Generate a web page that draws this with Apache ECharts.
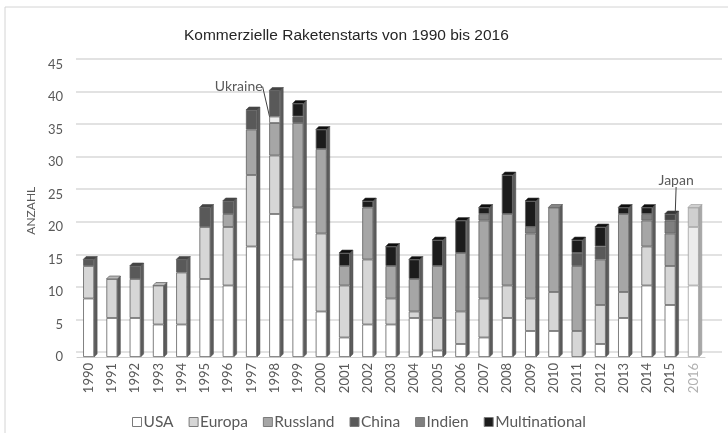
<!DOCTYPE html>
<html>
<head>
<meta charset="utf-8">
<script src="https://cdn.jsdelivr.net/npm/echarts@6/dist/echarts.min.js"></script>
<style>
  html, body { margin: 0; padding: 0; background: #fff; }
  #chart { width: 728px; height: 433px; }
</style>
</head>
<body>
<div id="chart"></div>
<script>
const years = ['1990', '1991', '1992', '1993', '1994', '1995', '1996', '1997', '1998', '1999',
  '2000', '2001', '2002', '2003', '2004', '2005', '2006', '2007', '2008', '2009',
  '2010', '2011', '2012', '2013', '2014', '2015', '2016'];

const usa =           [9, 6, 6, 5, 5, 12, 11, 17, 22, 15, 7, 3, 5, 5, 6, 1, 2, 3, 6, 4, 4, 0, 2, 6, 11, 8, 11];
const europa =        [5, 6, 6, 6, 8, 8, 9, 11, 9, 8, 12, 8, 10, 4, 1, 5, 5, 6, 5, 5, 6, 4, 6, 4, 6, 6, 9];
const russland =      [0, 0, 0, 0, 0, 0, 2, 7, 5, 13, 13, 3, 8, 5, 5, 8, 9, 12, 11, 10, 13, 10, 7, 12, 4, 5, 3];
const ukraine =       [0, 0, 0, 0, 0, 0, 0, 0, 1, 0, 0, 0, 0, 0, 0, 0, 0, 0, 0, 0, 0, 0, 0, 0, 0, 0, 0];
const china =         [1, 0, 2, 0, 2, 3, 2, 3, 4, 1, 0, 0, 0, 0, 0, 0, 0, 0, 0, 0, 0, 2, 2, 0, 0, 0, 0];
const indien =        [0, 0, 0, 0, 0, 0, 0, 0, 0, 0, 0, 0, 0, 0, 0, 0, 0, 1, 0, 1, 0, 0, 0, 0, 1, 2, 0];
const japan =         [0, 0, 0, 0, 0, 0, 0, 0, 0, 0, 0, 0, 0, 0, 0, 0, 0, 0, 0, 0, 0, 0, 0, 0, 0, 1, 0];
const multinational = [0, 0, 0, 0, 0, 0, 0, 0, 0, 2, 3, 2, 1, 3, 3, 4, 5, 1, 6, 4, 0, 2, 3, 1, 1, 0, 0];

const yTicks = [0, 5, 10, 15, 20, 25, 30, 35, 40, 45];

const FONT = 'Lato';
const BAR_W = 11;
const DEPTH = 3;
const lastIdx = years.length - 1;

// stacking order bottom -> top, with front colour, faded (2016) colour and cap colour
const stackDefs = [
  { name: 'USA', data: usa, color: '#ffffff', faded: '#ffffff', cap: '#d8d8d8' },
  { name: 'Europa', data: europa, color: '#d6d6d6', faded: '#ececec', cap: '#b8b8b8' },
  { name: 'Russland', data: russland, color: '#a6a6a6', faded: '#cfcfcf', cap: '#868686' },
  { name: 'Ukraine', data: ukraine, color: '#ededed', faded: '#ededed', cap: '#cccccc' },
  { name: 'China', data: china, color: '#595959', faded: '#8a8a8a', cap: '#444444' },
  { name: 'Indien', data: indien, color: '#7f7f7f', faded: '#b0b0b0', cap: '#626262' },
  { name: 'Japan', data: japan, color: '#454545', faded: '#454545', cap: '#333333' },
  { name: 'Multinational', data: multinational, color: '#1c1c1c', faded: '#555555', cap: '#0e0e0e' }
];

// total per year and which series sits on top (for the 3D cap)
const depthData = years.map((y, i) => {
  let total = 0, topK = 0;
  stackDefs.forEach((s, k) => {
    if (s.data[i]) { total += s.data[i]; topK = k; }
  });
  return [i, total, topK];
});

const chart = echarts.init(document.getElementById('chart'));

function toData(arr, fadedColor) {
  return arr.map((v, i) => {
    if (!v) return '-';
    if (i === lastIdx) {
      return { value: v, itemStyle: { color: fadedColor, borderColor: '#a0a0a0' } };
    }
    return v;
  });
}

function barSeries(def, extra) {
  return Object.assign({
    name: def.name,
    type: 'bar',
    stack: 'total',
    barWidth: BAR_W,
    data: toData(def.data, def.faded),
    itemStyle: { color: def.color, borderColor: '#606060', borderWidth: 0.8 },
    emphasis: { disabled: true },
    z: 3
  }, extra || {});
}

const annoLabel = text => ({
  show: true,
  position: 'top',
  formatter: text,
  fontFamily: FONT,
  fontSize: 14,
  color: '#595959'
});

const series = stackDefs.map(def => {
  if (def.name === 'Ukraine') {
    return barSeries(def, {
      label: annoLabel('Ukraine'),
      labelLayout: { dx: -36, dy: -18 },
      labelLine: { show: true, lineStyle: { color: '#404040', width: 1 } }
    });
  }
  if (def.name === 'Japan') {
    return barSeries(def, {
      label: annoLabel('Japan'),
      labelLayout: { dx: 6, dy: -22 },
      labelLine: { show: true, lineStyle: { color: '#404040', width: 1 } }
    });
  }
  return barSeries(def);
});

// side face and top cap of each column
series.push({
  name: 'depth',
  type: 'custom',
  data: depthData,
  silent: true,
  z: 2,
  renderItem: (params, api) => {
    const i = api.value(0);
    const total = api.value(1);
    const topK = api.value(2);
    const base = api.coord([i, 0]);
    const top = api.coord([i, total]);
    const xl = base[0] - BAR_W / 2;
    const xr = base[0] + BAR_W / 2;
    const faded = i === lastIdx;
    const capColor = faded ? stackDefs[topK].faded : stackDefs[topK].cap;
    return {
      type: 'group',
      children: [
        {
          type: 'polygon',
          shape: { points: [[xr, base[1]], [xr + DEPTH, base[1] - DEPTH], [xr + DEPTH, top[1] - DEPTH], [xr, top[1]]] },
          style: { fill: faded ? '#a8a8a8' : '#5c5c5c', stroke: faded ? '#999' : '#4a4a4a', lineWidth: 0.5 }
        },
        {
          type: 'polygon',
          shape: { points: [[xl, top[1]], [xl + DEPTH, top[1] - DEPTH], [xr + DEPTH, top[1] - DEPTH], [xr, top[1]]] },
          style: { fill: capColor, stroke: faded ? '#999' : '#4a4a4a', lineWidth: 0.6 }
        }
      ]
    };
  }
});

const option = {
  animation: false,
  backgroundColor: '#fff',
  textStyle: { fontFamily: FONT },
  title: {
    text: 'Kommerzielle Raketenstarts von 1990 bis 2016',
    left: 179,
    top: 23,
    textStyle: {
      fontFamily: 'Liberation Sans',
      fontSize: 15.5,
      fontWeight: 'normal',
      color: '#262626'
    }
  },
  graphic: [{
    type: 'rect',
    shape: { x: 5, y: 7, width: 800, height: 500 },
    style: { fill: 'none', stroke: '#d4d4d4', lineWidth: 1 },
    silent: true,
    z: -10
  }],
  legend: {
    data: ['USA', 'Europa', 'Russland', 'China', 'Indien', 'Multinational'],
    left: 127,
    top: 409,
    itemWidth: 9,
    itemHeight: 9,
    itemGap: 15,
    icon: 'rect',
    itemStyle: { borderColor: '#7a7a7a', borderWidth: 1 },
    textStyle: { fontFamily: FONT, fontSize: 15.5, color: '#595959', padding: [0, 0, 0, -3] }
  },
  grid: [
    // bars (front plane)
    { left: 77, right: 23, top: 64.5, bottom: 76 },
    // back wall with gridlines, slightly raised
    { left: 76, right: 6, top: 59, bottom: 81 }
  ],
  xAxis: [
    {
      type: 'category',
      gridIndex: 0,
      data: years,
      axisTick: { show: false },
      axisLine: { show: true, lineStyle: { color: '#cfcfcf', width: 1 } },
      axisLabel: {
        rotate: 90,
        margin: 6,
        fontFamily: FONT,
        fontSize: 13,
        color: (value, index) => (index === lastIdx || value === '2016') ? '#b0b0b0' : '#595959'
      }
    },
    { type: 'category', gridIndex: 1, data: years, show: false }
  ],
  yAxis: [
    {
      type: 'value',
      gridIndex: 0,
      min: 0,
      max: 45,
      interval: 5,
      name: 'ANZAHL',
      nameLocation: 'middle',
      nameGap: 38,
      nameRotate: 90,
      nameTextStyle: { fontFamily: FONT, fontSize: 12, color: '#595959' },
      axisLine: { show: false },
      axisTick: { show: false },
      splitLine: { show: false },
      axisLabel: {
        margin: 14,
        fontFamily: FONT,
        fontSize: 13,
        color: '#595959',
        formatter: v => yTicks.includes(v) ? String(v) : ''
      }
    },
    {
      type: 'value',
      gridIndex: 1,
      min: 0,
      max: 45,
      interval: 5,
      axisLine: { show: false },
      axisTick: { show: false },
      axisLabel: { show: false },
      splitLine: { show: true, lineStyle: { color: '#d9d9d9', width: 1.5 } }
    }
  ],
  series: series
};

chart.setOption(option);
</script>
</body>
</html>
